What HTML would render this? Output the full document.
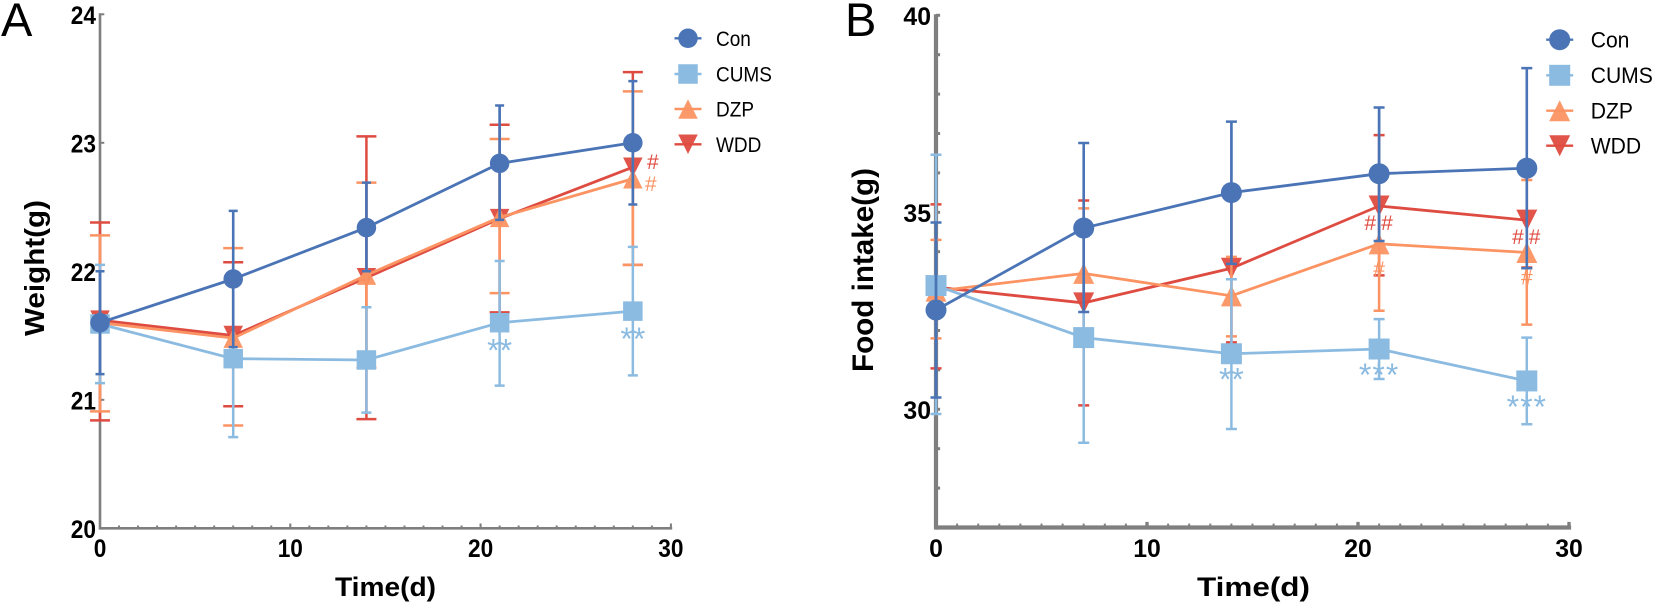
<!DOCTYPE html>
<html lang="en">
<head>
<meta charset="utf-8">
<title>Weight and food intake over time</title>
<style>
html,body{margin:0;padding:0;background:#fff;width:1654px;height:604px;overflow:hidden}
svg{display:block;font-family:"Liberation Sans",Arial,sans-serif}
</style>
</head>
<body>
<svg id="figure" xmlns="http://www.w3.org/2000/svg" width="1654" height="604" viewBox="0 0 1654 604">
  <rect width="1654" height="604" fill="#ffffff"/>
  <text x="1" y="36" font-size="47" fill="#000">A</text>
  <text x="845" y="36" font-size="47" fill="#000">B</text>
  <text x="335" y="596" font-size="27" font-weight="700" textLength="101" lengthAdjust="spacingAndGlyphs" fill="#000">Time(d)</text>
  <text x="1197" y="596" font-size="27" font-weight="700" textLength="113" lengthAdjust="spacingAndGlyphs" fill="#000">Time(d)</text>
  <text transform="translate(44 336) rotate(-90)" font-size="28" font-weight="700" textLength="136" lengthAdjust="spacingAndGlyphs" fill="#000">Weight(g)</text>
  <text transform="translate(873 372) rotate(-90)" font-size="30" font-weight="700" textLength="204" lengthAdjust="spacingAndGlyphs" fill="#000">Food intake(g)</text>
  <g id="panel-a"></g>
  <g id="panel-b"></g>
</svg>
<script>
// Shared categories and labels
const days = [0, 7, 14, 21, 28];
const seriesNames = ['Con', 'CUMS', 'DZP', 'WDD'];
const xTickLabels = [0, 10, 20, 30];
const yTickLabelsA = [20, 21, 22, 23, 24];
const yTickLabelsB = [30, 35, 40];

// Panel A: weight (g)
const weightCon = [21.60, 21.94, 22.34, 22.84, 23.00];
const weightConUpper = [22.00, 22.47, 22.69, 23.29, 23.48];
const weightConLower = [21.20, 21.41, 22.00, 22.40, 22.52];
const weightCums = [21.59, 21.32, 21.31, 21.60, 21.69];
const weightCumsUpper = [22.05, 21.93, 21.72, 22.08, 22.19];
const weightCumsLower = [21.13, 20.71, 20.90, 21.11, 21.19];
const weightDzp = [21.60, 21.48, 21.97, 22.42, 22.72];
const weightDzpUpper = [22.28, 22.18, 22.69, 23.03, 23.40];
const weightDzpLower = [20.91, 20.80, 21.25, 21.83, 22.05];
const weightWdd = [21.62, 21.50, 21.95, 22.41, 22.81];
const weightWddUpper = [22.38, 22.07, 23.05, 23.14, 23.55];
const weightWddLower = [20.84, 20.95, 20.85, 21.68, 22.05];

// Panel B: food intake (g)
const intakeCon = [32.52, 34.60, 35.50, 35.98, 36.12];
const intakeConUpper = [34.74, 36.76, 37.30, 37.66, 38.66];
const intakeConLower = [30.30, 32.47, 33.69, 34.27, 33.58];
const intakeCums = [33.14, 31.82, 31.41, 31.53, 30.72];
const intakeCumsUpper = [36.46, 34.40, 33.30, 32.29, 31.82];
const intakeCumsLower = [29.88, 29.15, 29.50, 30.77, 29.62];
const intakeDzp = [33.00, 33.45, 32.88, 34.20, 33.98];
const intakeDzpUpper = [34.30, 35.10, 33.87, 35.90, 35.82];
const intakeDzpLower = [31.80, 31.80, 31.85, 32.50, 32.15];
const intakeWdd = [33.10, 32.70, 33.58, 35.16, 34.80];
const intakeWddUpper = [35.20, 35.30, 35.50, 36.96, 36.10];
const intakeWddLower = [31.04, 30.10, 31.70, 33.40, 33.60];

// Significance marks: series index, day index, printed text
const marksASeries = [1, 1, 2, 3];
const marksADay = [3, 4, 4, 4];
const marksAText = ['**', '**', '#', '#'];
const marksBSeries = [1, 1, 1, 2, 2, 3, 3];
const marksBDay = [2, 3, 4, 3, 4, 3, 4];
const marksBText = ['**', '***', '***', '#', '#', '##', '##'];

const colors = ['#4a74b5', '#8cbbe1', '#fb9363', '#de4b40'];
const SVGNS = 'http://www.w3.org/2000/svg';

function make(parent, tag, attrs) {
  const node = document.createElementNS(SVGNS, tag);
  for (const key in attrs) node.setAttribute(key, attrs[key]);
  parent.appendChild(node);
  return node;
}

function drawMarker(parent, kind, cx, cy, size, color) {
  const r = size / 2;
  let node;
  if (kind === 0) {
    node = make(parent, 'circle', {cx: cx, cy: cy, r: r, fill: color});
  } else if (kind === 1) {
    node = make(parent, 'rect', {x: cx - r, y: cy - r, width: size, height: size, fill: color});
  } else if (kind === 2) {
    node = make(parent, 'polygon', {points: (cx - r) + ',' + (cy + r) + ' ' + (cx + r) + ',' + (cy + r) + ' ' + cx + ',' + (cy - r), fill: color, 'fill-opacity': 0.95});
  } else {
    node = make(parent, 'polygon', {points: (cx - r) + ',' + (cy - r) + ' ' + (cx + r) + ',' + (cy - r) + ' ' + cx + ',' + (cy + r), fill: color, 'fill-opacity': 0.95});
  }
  
  
  return node;
}

function drawPanel(cfg) {
  const root = document.getElementById(cfg.id);
  const X = cfg.xScale;
  const Y = cfg.yScale;
  const axisColor = '#7f7f7f';

  const axes = make(root, 'g', {});
  
  

  const yAxis = make(axes, 'line', {x1: X(0), x2: X(0), y1: Y(cfg.yMax) - 1, y2: Y(cfg.yMin) + cfg.axisWidth / 2, stroke: axisColor, 'stroke-width': cfg.axisWidth});
  
  

  const xAxis = make(axes, 'line', {x1: X(0), x2: X(30) + cfg.axisWidth / 2, y1: Y(cfg.yMin), y2: Y(cfg.yMin), stroke: axisColor, 'stroke-width': cfg.axisWidth});
  
  

  for (let d = 1; d <= 30; d++) {
    const major = d % 10 === 0;
    const tick = make(axes, 'line', {x1: X(d), x2: X(d), y1: Y(cfg.yMin), y2: Y(cfg.yMin) - cfg.axisWidth / 2 - (major ? cfg.majorTick : cfg.minorTick), stroke: axisColor, 'stroke-width': major ? cfg.axisWidth * 0.8 : 2});
    
    
  }

  for (let v = cfg.yMin; v <= cfg.yMax; v += cfg.yTickStep) {
    const tick = make(axes, 'line', {x1: X(0), x2: X(0) + cfg.axisWidth / 2 + cfg.yTickLen, y1: Y(v), y2: Y(v), stroke: axisColor, 'stroke-width': cfg.yTickWidth});
    
    
  }

  xTickLabels.forEach(function (label) {
    const digits = String(label).length;
    const text = make(axes, 'text', {x: X(label), y: 557, 'font-size': 25, 'font-weight': 700, 'text-anchor': 'middle', fill: '#000', textLength: digits * cfg.digitWidth, lengthAdjust: 'spacingAndGlyphs'});
    text.textContent = label;
    
    
  });

  cfg.yLabels.forEach(function (label) {
    const text = make(axes, 'text', {x: cfg.yLabelRight, y: Y(label) + 9.7, 'font-size': 25, 'font-weight': 700, 'text-anchor': 'end', fill: '#000', textLength: String(label).length * cfg.digitWidth, lengthAdjust: 'spacingAndGlyphs'});
    text.textContent = label;
    
    
  });

  // Paint order: WDD, DZP, CUMS, Con (Con on top)
  [3, 2, 1, 0].forEach(function (i) {
    const group = make(root, 'g', {});
    
    
    const capWidth = cfg.capWidths[i];

    days.forEach(function (day, k) {
      const bar = make(group, 'path', {
        d: 'M' + X(day) + ' ' + Y(cfg.upper[i][k]) + 'V' + Y(cfg.lower[i][k]) +
           'M' + (X(day) - capWidth / 2) + ' ' + Y(cfg.upper[i][k]) + 'h' + capWidth +
           'M' + (X(day) - capWidth / 2) + ' ' + Y(cfg.lower[i][k]) + 'h' + capWidth,
        stroke: colors[i], 'stroke-width': 2.5, fill: 'none'});
      
      
    });

    const points = days.map(function (day, k) { return X(day) + ',' + Y(cfg.mean[i][k]); }).join(' ');
    const line = make(group, 'polyline', {points: points, fill: 'none', stroke: colors[i], 'stroke-width': 2.8});
    
    

    days.forEach(function (day, k) {
      drawMarker(group, i, X(day), Y(cfg.mean[i][k]), cfg.markerSize, colors[i]);
    });
  });

  // Con error bars stay visible over the other series' markers
  const overlay = make(root, 'g', {});
  
  
  days.forEach(function (day, k) {
    const bar = make(overlay, 'path', {
      d: 'M' + X(day) + ' ' + Y(cfg.upper[0][k]) + 'V' + Y(cfg.lower[0][k]),
      stroke: colors[0], 'stroke-width': 2.5, fill: 'none'});
    
    
  });

  // Significance marks
  cfg.markText.forEach(function (label, m) {
    const s = cfg.markSeries[m];
    const k = cfg.markDay[m];
    const place = cfg.placeMark(s, label);
    const isStar = label.charAt(0) === '*';
    const text = make(root, 'text', {
      x: X(days[k]) + place.dx, y: Y(cfg.mean[s][k]) + place.dy,
      'font-size': isStar ? 32 : 21, 'text-anchor': 'middle', fill: colors[s],
      'letter-spacing': place.spacing || 0});
    text.textContent = label;
    
    
  });

  // Legend
  const legend = make(root, 'g', {});
  
  
  seriesNames.forEach(function (name, i) {
    const y = cfg.legendY[i];
    const entry = make(legend, 'g', {});
    
    
    const key = make(entry, 'line', {x1: cfg.legendX - 13.5, x2: cfg.legendX + 13.5, y1: y, y2: y, stroke: colors[i], 'stroke-width': 2.4});
    
    
    drawMarker(entry, i, cfg.legendX, y, cfg.markerSize, colors[i]);
    const text = make(entry, 'text', {transform: 'translate(' + cfg.legendTextX + ' ' + (y + cfg.legendFont * 0.36) + ') scale(' + cfg.legendSquash + ' 1)', 'font-size': cfg.legendFont, fill: '#000'});
    text.textContent = name;
    
    
  });
}

drawPanel({
  id: 'panel-a',
  xScale: function (v) { return 100 + 19.03 * v; },
  yScale: function (v) { return 528.3 - 128.5 * (v - 20); },
  yMin: 20, yMax: 24, yTickStep: 1,
  yLabels: yTickLabelsA, yLabelRight: 96, digitWidth: 12.6,
  axisWidth: 2.6, minorTick: 1.5, majorTick: 3.5, yTickLen: 3, yTickWidth: 2,
  markerSize: 19.5,
  capWidths: [9, 10, 20, 20],
  mean: [weightCon, weightCums, weightDzp, weightWdd],
  upper: [weightConUpper, weightCumsUpper, weightDzpUpper, weightWddUpper],
  lower: [weightConLower, weightCumsLower, weightDzpLower, weightWddLower],
  markSeries: marksASeries, markDay: marksADay, markText: marksAText,
  placeMark: function (s, label) {
    if (label === '**') return {dx: 0, dy: 39};
    return s === 3 ? {dx: 20, dy: 2} : {dx: 18, dy: 12};
  },
  legendX: 688, legendTextX: 716, legendFont: 21, legendSquash: 0.905,
  legendY: [38.3, 74, 109, 144.3]
});

drawPanel({
  id: 'panel-b',
  xScale: function (v) { return 936 + 21.1 * v; },
  yScale: function (v) { return 15.3 + 39.4 * (40 - v); },
  yMin: 27, yMax: 40, yTickStep: 1,
  yLabels: yTickLabelsB, yLabelRight: 931, digitWidth: 13.8,
  axisWidth: 4.2, minorTick: 1.8, majorTick: 3.5, yTickLen: 2, yTickWidth: 3,
  markerSize: 21,
  capWidths: [11, 11, 11, 11],
  mean: [intakeCon, intakeCums, intakeDzp, intakeWdd],
  upper: [intakeConUpper, intakeCumsUpper, intakeDzpUpper, intakeWddUpper],
  lower: [intakeConLower, intakeCumsLower, intakeDzpLower, intakeWddLower],
  markSeries: marksBSeries, markDay: marksBDay, markText: marksBText,
  placeMark: function (s, label) {
    if (label.charAt(0) === '*') return {dx: 0, dy: 37, spacing: label.length === 3 ? 1 : 0};
    if (label === '##') return {dx: 2, dy: 24, spacing: 5};
    return {dx: 0, dy: 32};
  },
  legendX: 1559.7, legendTextX: 1590.7, legendFont: 22, legendSquash: 0.96,
  legendY: [39.7, 75.3, 110.7, 145.7]
});
</script>
</body>
</html>
